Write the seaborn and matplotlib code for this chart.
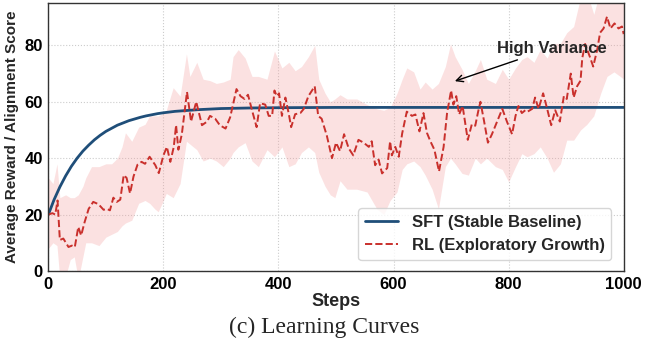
import numpy as np
import pandas as pd
import matplotlib
matplotlib.use("Agg")
import matplotlib.pyplot as plt
import seaborn as sns

# SFT baseline (smooth saturation)
sft_steps = [0, 10, 20, 30, 40, 50, 60, 70, 80, 90, 100, 110, 120, 130, 140, 150,
             160, 170, 180, 190, 200, 220, 240, 260, 280, 300, 350, 400, 500, 600,
             700, 800, 900, 1000]
sft_values = [20.0, 25.3, 29.8, 33.7, 37.1, 40.0, 42.5, 44.6, 46.5, 48.1, 49.5, 50.6,
              51.7, 52.5, 53.3, 53.9, 54.5, 55.0, 55.4, 55.8, 56.1, 56.6, 56.9, 57.2,
              57.4, 57.6, 57.8, 57.9, 58.0, 58.0, 58.0, 58.0, 58.0, 58.0]

# RL mean curve (noisy)
rl_steps = [0, 7, 12, 16, 20, 26, 35, 41, 46, 52, 57, 63, 70, 78, 87, 96, 102, 107,
            113, 119, 125, 131, 136, 142, 148, 155, 162, 168, 176, 186, 192, 200, 206,
            212, 218, 222, 226, 232, 241, 248, 257, 267, 276, 281, 290, 298, 308, 316,
            327, 334, 341, 347, 354, 362, 368, 377, 383, 389, 393, 397, 401, 406, 412,
            418, 422, 429, 438, 444, 452, 463, 469, 475, 484, 493, 500, 507, 514, 522,
            530, 539, 548, 557, 562, 568, 574, 580, 589, 594, 597, 603, 609, 615, 623,
            632, 638, 645, 652, 658, 664, 671, 679, 687, 693, 700, 704, 709, 714, 720,
            729, 736, 742, 747, 751, 757, 764, 771, 780, 789, 797, 806, 812, 817, 823,
            829, 833, 841, 846, 852, 860, 867, 874, 881, 889, 896, 901, 908, 913, 919,
            925, 928, 933, 942, 947, 954, 959, 965, 971, 977, 984, 991, 997, 1000]
rl_values = [20.0, 20.5, 20.0, 25.0, 11.0, 11.5, 8.5, 9.0, 8.5, 15.6, 12.6, 17.3, 22.0,
             24.5, 23.7, 21.7, 22.0, 21.5, 26.0, 24.5, 25.3, 34.0, 33.0, 27.5, 33.5,
             37.7, 38.7, 38.0, 40.5, 37.5, 34.7, 41.0, 44.0, 38.7, 44.0, 51.7, 43.0,
             48.5, 63.5, 53.0, 60.0, 51.7, 53.0, 55.0, 54.0, 51.7, 50.5, 54.5, 64.5,
             62.0, 61.0, 62.5, 57.0, 51.0, 59.5, 59.0, 55.0, 55.0, 64.0, 62.0, 63.0,
             55.0, 61.5, 55.6, 51.0, 55.6, 56.0, 57.5, 62.0, 65.5, 55.0, 54.0, 48.0,
             40.0, 45.5, 42.5, 48.5, 43.5, 41.0, 46.5, 45.5, 44.0, 46.0, 37.5, 39.5,
             34.6, 36.5, 46.0, 41.0, 44.0, 40.5, 48.8, 56.5, 55.0, 55.5, 49.5, 56.0,
             49.0, 46.0, 43.0, 35.3, 44.0, 56.0, 64.0, 59.0, 62.0, 55.5, 58.5, 46.5,
             52.0, 51.5, 56.5, 60.0, 53.5, 45.5, 48.5, 53.0, 57.5, 53.0, 48.5, 55.0,
             58.5, 56.0, 57.0, 56.5, 57.5, 61.5, 57.5, 63.0, 57.5, 51.7, 57.0, 53.0,
             62.0, 61.0, 70.0, 61.5, 65.5, 67.5, 75.5, 80.5, 75.5, 72.5, 78.5, 84.5,
             86.0, 90.2, 86.0, 87.8, 86.0, 86.7, 84.0]

# RL variance band (upper / lower edges)
band_steps = [0, 8, 15, 20, 30, 38, 45, 52, 60, 65, 75, 88, 100, 110, 120, 128, 134,
              145, 157, 168, 176, 185, 191, 200, 205, 217, 229, 240, 246, 258, 269,
              281, 292, 304, 316, 321, 330, 342, 354, 365, 380, 393, 406, 418, 429,
              440, 452, 463, 470, 481, 490, 498, 507, 519, 536, 554, 571, 583, 594,
              606, 615, 623, 635, 646, 655, 667, 678, 690, 699, 707, 719, 730, 742,
              751, 762, 777, 789, 800, 812, 823, 832, 844, 855, 867, 878, 890, 901,
              913, 925, 936, 948, 960, 971, 983, 994, 1000]
band_upper = [33, 31, 38, 26, 27, 26, 26, 27, 30, 33, 37, 37, 38, 38, 40, 44, 49, 46,
              51, 52, 55, 55, 55, 56, 57, 65, 62, 77, 69, 74, 68, 67.5, 66.5, 67, 68,
              76, 78.5, 75.5, 69, 69, 68, 78, 72, 74, 71, 72.5, 76, 80, 68, 63, 60, 61,
              62.5, 61, 61, 59, 57.5, 57, 58, 63, 68, 72, 70.6, 64.5, 67, 64.5, 66.5,
              72.5, 80.5, 76, 71.5, 66.5, 71, 75, 68, 66.5, 71.5, 68, 72, 75, 76, 74,
              78.5, 75.5, 80.7, 80.7, 84.5, 86.7, 97, 99, 91, 100, 104, 103, 102, 101]
band_lower = [8, 10, 9, -3, -2, 4, 5, -3, 5, 10, 10, 9, 12, 13, 14, 16, 17, 18, 24, 25,
              24, 22, 21, 25, 27.5, 26, 31, 46, 45, 43, 39, 40, 39, 37, 40, 42, 44,
              45.5, 39, 37, 43, 40.5, 44, 37, 38, 42, 44, 42, 35, 30, 27, 26, 32, 29,
              29, 28, 22, 20, 25, 28, 36, 38, 39, 37, 34, 29, 22, 37, 40, 38, 34.6, 34,
              40, 38, 40, 37, 36, 31.6, 37, 41.6, 40.5, 41.6, 44, 40, 35, 38, 46.4,
              46.4, 50, 52, 55, 63, 69, 70.6, 69, 68]

sft_color = "#1f4e79"
rl_color = "#c9302c"
band_color = "#f4a3a3"

sns.set_style("whitegrid")
plt.rcParams["font.family"] = ["Liberation Sans", "DejaVu Sans"]

sft_df = pd.DataFrame({"Steps": sft_steps, "Score": sft_values})
rl_df = pd.DataFrame({"Steps": rl_steps, "Score": rl_values})

fig = plt.figure(figsize=(6.49, 3.43), dpi=100)
ax = fig.add_axes([0.0745, 0.21, 0.8865, 0.781])

ax.fill_between(band_steps, band_lower, band_upper, color=band_color, alpha=0.32,
                linewidth=0)
sns.lineplot(data=sft_df, x="Steps", y="Score", ax=ax, color=sft_color, linewidth=2,
             label="SFT (Stable Baseline)")
sns.lineplot(data=rl_df, x="Steps", y="Score", ax=ax, color=rl_color, linewidth=1.4,
             linestyle="--", label="RL (Exploratory Growth)")

ax.set_xlim(0, 1000)
ax.set_ylim(0, 95)
ax.set_xticks([0, 200, 400, 600, 800, 1000])
ax.set_yticks([0, 20, 40, 60, 80])
ax.grid(True, color="#cccccc", linestyle=":", linewidth=0.8)
for s in ax.spines.values():
    s.set_color("#333333")
    s.set_linewidth(1.0)
ax.tick_params(axis="both", length=3, width=1, colors="black", pad=1)
for lab in ax.get_xticklabels() + ax.get_yticklabels():
    lab.set_fontweight("bold")
    lab.set_fontsize(12)

ax.set_xlabel("Steps", fontsize=13, fontweight="bold", labelpad=1)
ax.set_ylabel("Average Reward / Alignment Score", fontsize=11, fontweight="bold",
              labelpad=4)

ax.annotate("High Variance", xy=(702, 67), xytext=(875, 79),
            ha="center", va="center", fontsize=12, fontweight="bold",
            arrowprops=dict(arrowstyle="->", color="black", lw=1))

leg = ax.legend(loc="lower right", prop={"weight": "bold", "size": 12},
                frameon=True, fancybox=True, borderpad=0.4, handlelength=2.0,
                bbox_to_anchor=(0.993, 0.01))
leg.get_frame().set_edgecolor("#cccccc")

fig.text(0.5, 0.015, "(c) Learning Curves", ha="center", va="bottom",
         fontsize=17, family="Liberation Serif")

fig.savefig("out.png", dpi=100)
